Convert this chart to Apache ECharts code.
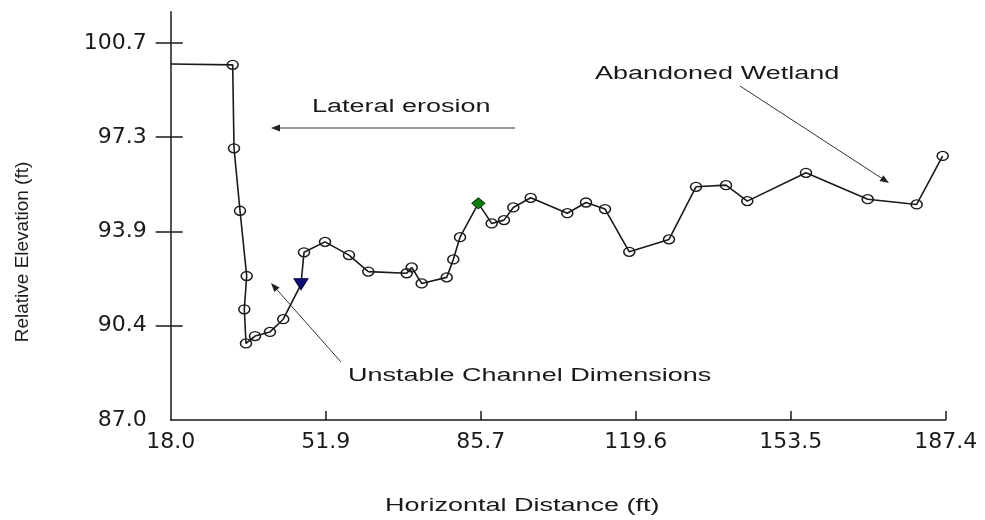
<!DOCTYPE html>
<html>
<head>
<meta charset="utf-8">
<script src="https://cdn.jsdelivr.net/npm/echarts@6/dist/echarts.min.js"></script>
<style>html,body{margin:0;padding:0;background:#fff;}#chart{width:985px;height:520px;}</style>
</head>
<body>
<div id="chart"></div>
<script>
// ---- data ----
const xValues = [18.0, 31.55, 31.84, 33.15, 34.61, 34.09, 34.46, 36.43, 39.70, 42.60,
  46.48, 47.14, 51.73, 56.97, 61.19, 69.58, 70.68, 72.86, 78.33, 79.77,
  81.24, 85.24, 88.16, 90.85, 92.89, 96.69, 104.69, 108.78, 112.93, 118.24,
  126.92, 132.82, 139.38, 144.03, 156.86, 170.35, 181.06, 186.74];
const yValues = [99.93, 99.90, 96.87, 94.60, 92.23, 91.02, 89.78, 90.05, 90.20, 90.66,
  91.93, 93.09, 93.47, 92.99, 92.39, 92.33, 92.54, 91.96, 92.18, 92.83,
  93.64, 94.87, 94.14, 94.26, 94.72, 95.07, 94.51, 94.90, 94.66, 93.11,
  93.56, 95.47, 95.53, 94.95, 95.98, 95.02, 94.83, 96.59];
const xTickValues = [18.0, 51.88, 85.76, 119.64, 153.52, 187.4];
const xTickLabels = ['18.0', '51.9', '85.7', '119.6', '153.5', '187.4'];
const yTickValues = [87.0, 90.425, 93.85, 97.275, 100.7];
const yTickLabels = ['87.0', '90.4', '93.9', '97.3', '100.7'];
const annotationTexts = ['Lateral erosion', 'Abandoned Wetland', 'Unstable Channel Dimensions'];
const xTitle = 'Horizontal Distance (ft)';
const yTitle = 'Relative Elevation (ft)';

// ---- styling ----
const INK = '#1a1a1a';
const hiddenMarkerIndex = 0;
const triangleIndex = 10;
const diamondIndex = 21;

function nearestLabel(v, vals, labels) {
  let best = 0;
  for (let i = 1; i < vals.length; i++) if (Math.abs(vals[i] - v) < Math.abs(vals[best] - v)) best = i;
  return labels[best];
}

const seriesData = xValues.map((x, i) => {
  const item = { value: [x, yValues[i]] };
  if (i === hiddenMarkerIndex) item.symbol = 'none';
  if (i === triangleIndex) {
    item.symbol = 'triangle'; item.symbolRotate = 180; item.symbolSize = [14, 11];
    item.itemStyle = { color: '#0c0c78', borderColor: '#05053a', borderWidth: 1 };
  }
  if (i === diamondIndex) {
    item.symbol = 'diamond'; item.symbolSize = [13, 11];
    item.itemStyle = { color: '#0f7d0f', borderColor: '#064006', borderWidth: 1 };
  }
  return item;
});

function arrow(x1, y1, x2, y2) {
  const dx = x2 - x1, dy = y2 - y1, len = Math.sqrt(dx * dx + dy * dy);
  const ux = dx / len, uy = dy / len, nx = -uy, ny = ux;
  const bx = x2 - ux * 9, by = y2 - uy * 9;
  return [
    { type: 'line', shape: { x1: x1, y1: y1, x2: bx, y2: by }, style: { stroke: '#333', lineWidth: 1 }, z: 100 },
    { type: 'polygon', shape: { points: [[x2, y2], [bx + nx * 3.5, by + ny * 3.5], [bx - nx * 3.5, by - ny * 3.5]] },
      style: { fill: '#222' }, z: 100 }
  ];
}

const textFont = { fontFamily: '"Liberation Sans", Arial, sans-serif', fontSize: 18, fill: INK };

const chart = echarts.init(document.getElementById('chart'), null, { renderer: 'canvas' });
chart.setOption({
  animation: false,
  backgroundColor: '#ffffff',
  grid: { left: 170.7, right: 39.3, top: 11.7, bottom: 100 },
  xAxis: {
    type: 'value', min: 18.0, max: 187.4,
    axisLine: { onZero: false, lineStyle: { color: INK, width: 1.5 } },
    axisTick: { inside: true, length: 9, customValues: xTickValues.slice(1), lineStyle: { color: INK, width: 1.5 } },
    axisLabel: {
      customValues: xTickValues, margin: 11,
      formatter: v => nearestLabel(v, xTickValues, xTickLabels),
      fontFamily: '"DejaVu Sans", sans-serif', fontSize: 22, color: INK
    },
    splitLine: { show: false }
  },
  yAxis: [{
    type: 'value', min: 87.0, max: 101.83, position: 'left',
    axisLine: { show: true, lineStyle: { color: INK, width: 1.5 } },
    axisTick: { show: true, inside: false, length: 15, customValues: yTickValues.slice(1), lineStyle: { color: INK, width: 1.5 } },
    axisLabel: {
      customValues: yTickValues, margin: 24,
      formatter: v => nearestLabel(v, yTickValues, yTickLabels),
      fontFamily: '"DejaVu Sans", sans-serif', fontSize: 22, color: INK
    },
    splitLine: { show: false }
  }, {
    type: 'value', min: 87.0, max: 101.83, position: 'left',
    axisLine: { show: false },
    axisTick: { show: true, inside: true, length: 12, customValues: yTickValues.slice(1), lineStyle: { color: INK, width: 1.5 } },
    axisLabel: { show: false },
    splitLine: { show: false }
  }],
  series: [{
    type: 'line',
    data: seriesData,
    yAxisIndex: 0,
    symbol: 'circle',
    symbolSize: [11, 9],
    showAllSymbol: true,
    lineStyle: { color: INK, width: 1.6 },
    itemStyle: { color: 'rgba(255,255,255,0)', borderColor: INK, borderWidth: 1.4 },
    z: 10
  }],
  graphic: [
    { type: 'text', x: 312, y: 107, scaleX: 1.5,
      style: Object.assign({ text: annotationTexts[0], align: 'left', verticalAlign: 'middle' }, textFont) },
    { type: 'text', x: 595, y: 74, scaleX: 1.5,
      style: Object.assign({ text: annotationTexts[1], align: 'left', verticalAlign: 'middle' }, textFont) },
    { type: 'text', x: 348, y: 376, scaleX: 1.5,
      style: Object.assign({ text: annotationTexts[2], align: 'left', verticalAlign: 'middle' }, textFont) },
    { type: 'text', x: 385, y: 506, scaleX: 1.5,
      style: Object.assign({ text: xTitle, align: 'left', verticalAlign: 'middle' }, textFont) },
    { type: 'text', x: 23, y: 252, rotation: Math.PI / 2,
      style: { text: yTitle, align: 'center', verticalAlign: 'middle', fontFamily: '"Liberation Sans", Arial, sans-serif', fontSize: 19, fill: INK } }
  ].concat(arrow(515, 128, 271, 128), arrow(740, 86, 889, 183), arrow(341, 362, 271, 283))
});
</script>
</body>
</html>
